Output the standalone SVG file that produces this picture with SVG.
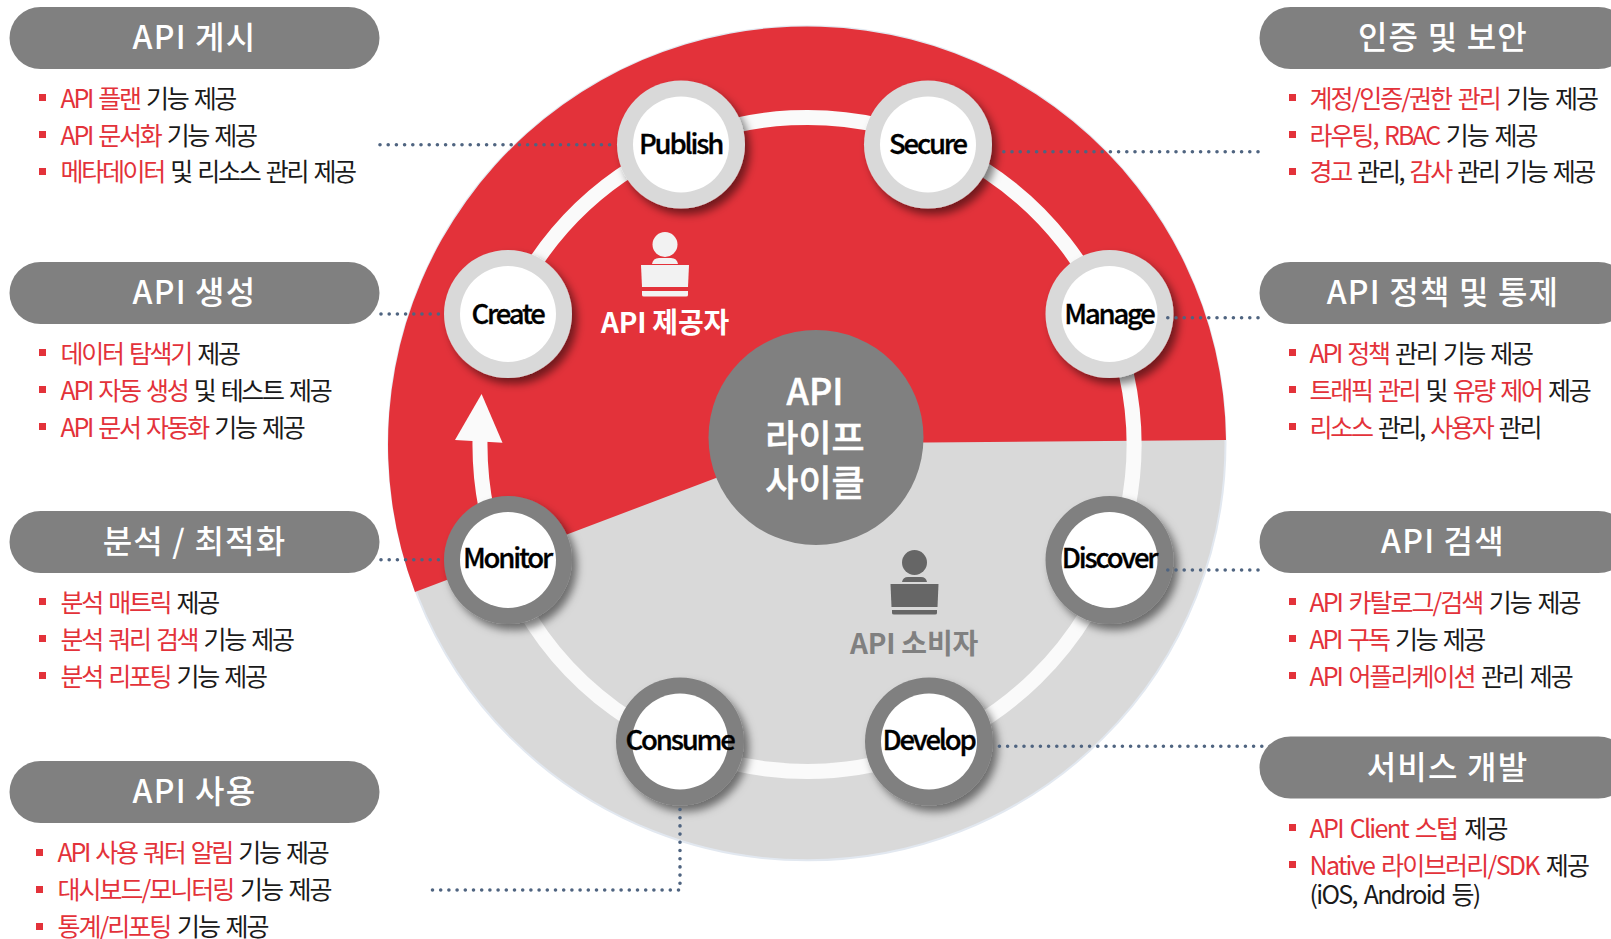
<svg xmlns="http://www.w3.org/2000/svg" width="1611" height="939" viewBox="0 0 1611 939">
<style>
text{font-family:"Noto Sans CJK KR","Noto Sans",sans-serif}
.pill{fill:#808080}
.pt{fill:#fff;font-size:32px;font-weight:500;text-anchor:middle;letter-spacing:1.2px}
.li{fill:#1a1a1a;font-size:25px;letter-spacing:-2.3px;word-spacing:3px}
.w1{letter-spacing:-2px}
.w2{letter-spacing:-1.7px}
.r{fill:#e3323a}
.bu{fill:#e3323a}
.nt{fill:#000;stroke:#000;stroke-width:.3px;font-size:27.5px;font-weight:500;text-anchor:middle;letter-spacing:-2.2px}
.ring{fill:#fff}
.dot{fill:none;stroke:#4f6480;stroke-width:3.6;stroke-linecap:round;stroke-dasharray:0 8.2}
</style>
<defs>
<filter id="sh" x="-30%" y="-30%" width="170%" height="170%"><feDropShadow dx="5" dy="6" stdDeviation="4.500" flood-color="#000" flood-opacity=".5"/></filter>
</defs>
<g id="disc">
<ellipse cx="807" cy="443.300" rx="418.500" ry="417" fill="#d9d9d9" stroke="#e2e8f0" stroke-width="2"/>
<path d="M1226 440A419 418 0 1 0 415 592L716 478L816 441L925 442.600Z" fill="#e3323a"/>
</g>
<g id="cycle">
<path d="M480 440A327 327 0 1 0 531 269" fill="none" stroke="#fafafa" stroke-width="15"/>
<path d="M481.600 394L455 440L481 441.500L502.500 442.700Z" fill="#fafafa"/>
</g>
<g id="hub"><circle cx="816" cy="437.500" r="107.500" fill="#808080"/>
<g fill="#fff" stroke="#fff" stroke-width=".5" font-size="36" font-weight="500" text-anchor="middle"><text x="815" y="405">API</text><text x="815" y="451">라이프</text><text x="815" y="496">사이클</text></g></g>
<g id="provider" fill="#f2f2f2">
<ellipse cx="665" cy="244.500" rx="12.500" ry="12.500"/>
<path d="M652 264Q653 258 659 258H671Q677 258 678 264Z"/>
<path d="M641 265H689L688 287H642Z"/>
<path d="M642 291H688V295Q688 296.500 686 296.500H644Q642 296.500 642 295Z"/>
<text x="665" y="332.500" font-size="28" font-weight="700" text-anchor="middle" letter-spacing="-.2" fill="#fff">API 제공자</text>
</g>
<g id="consumer" fill="#666">
<ellipse cx="914.500" cy="562.500" rx="12.500" ry="12.500"/>
<path d="M902 582Q903 577 908 577H921Q926 577 927 582Z"/>
<path d="M890.500 584H938.500L937.500 607H891.500Z"/>
<path d="M892 610H937V613Q937 614.500 935 614.500H894Q892 614.500 892 613Z"/>
<text x="914" y="654" font-size="28" font-weight="700" text-anchor="middle" letter-spacing="-.2" fill="#808080">API 소비자</text>
</g>
<g id="node-publish"><circle cx="681" cy="144.500" r="64" fill="#d9d9d9" filter="url(#sh)"/><circle class="ring" cx="681" cy="144.500" r="48"/><text class="nt" x="680.500" y="153.500">Publish</text></g>
<g id="node-secure"><circle cx="928" cy="144.500" r="64" fill="#d9d9d9" filter="url(#sh)"/><circle class="ring" cx="928" cy="144.500" r="48"/><text class="nt" x="927.500" y="153.500">Secure</text></g>
<g id="node-create"><circle cx="508" cy="314" r="64" fill="#d9d9d9" filter="url(#sh)"/><circle class="ring" cx="508" cy="314" r="48"/><text class="nt" x="507.500" y="323.500">Create</text></g>
<g id="node-manage"><circle cx="1109.500" cy="314" r="64" fill="#d9d9d9" filter="url(#sh)"/><circle class="ring" cx="1109.500" cy="314" r="48"/><text class="nt" x="1109" y="323.500">Manage</text></g>
<g id="node-monitor"><circle cx="508" cy="560" r="64" fill="#808080" filter="url(#sh)"/><circle class="ring" cx="508" cy="560" r="48"/><text class="nt" x="507" y="568">Monitor</text></g>
<g id="node-discover"><circle cx="1109.500" cy="560" r="64" fill="#808080" filter="url(#sh)"/><circle class="ring" cx="1109.500" cy="560" r="48"/><text class="nt" x="1109" y="568">Discover</text></g>
<g id="node-consume"><circle cx="680" cy="741.500" r="64" fill="#808080" filter="url(#sh)"/><circle class="ring" cx="680" cy="741.500" r="48"/><text class="nt" x="679.500" y="750">Consume</text></g>
<g id="node-develop"><circle cx="929" cy="741.500" r="64" fill="#808080" filter="url(#sh)"/><circle class="ring" cx="929" cy="741.500" r="48"/><text class="nt" x="928.500" y="750">Develop</text></g>
<g id="connectors">
<path class="dot" d="M380 144.700H615"/>
<path class="dot" d="M381 314H443"/>
<path class="dot" d="M381 559.700H443"/>
<path class="dot" d="M432.500 890H680V806"/>
<path class="dot" d="M1258 151.700H999"/>
<path class="dot" d="M1258 317.700H1166"/>
<path class="dot" d="M1258 570H1166"/>
<path class="dot" d="M1270 746.300H999"/>
</g>
<g id="panel-publish"><rect class="pill" x="9.500" y="7" width="370" height="62" rx="31"/><text class="pt" x="194.500" y="49">API 게시</text>
<rect class="bu" x="39" y="94" width="7" height="7"/><text class="li" x="60.500" y="107.500"><tspan class="r">API 플랜</tspan> 기능 제공</text>
<rect class="bu" x="39" y="131" width="7" height="7"/><text class="li" x="60.500" y="144.500"><tspan class="r">API 문서화</tspan> 기능 제공</text>
<rect class="bu" x="39" y="168" width="7" height="7"/><text class="li" x="60.500" y="181"><tspan class="r">메타데이터</tspan> 및 리소스 관리 제공</text></g>
<g id="panel-create"><rect class="pill" x="9.500" y="262" width="370" height="62" rx="31"/><text class="pt" x="194.500" y="304">API 생성</text>
<rect class="bu" x="39" y="349" width="7" height="7"/><text class="li" x="60.500" y="362.500"><tspan class="r">데이터 탐색기</tspan> 제공</text>
<rect class="bu" x="39" y="386" width="7" height="7"/><text class="li" x="60.500" y="399.500"><tspan class="r">API 자동 생성</tspan> 및 테스트 제공</text>
<rect class="bu" x="39" y="423" width="7" height="7"/><text class="li" x="60.500" y="436.500"><tspan class="r">API 문서 자동화</tspan> 기능 제공</text></g>
<g id="panel-monitor"><rect class="pill" x="9.500" y="511" width="370" height="62" rx="31"/><text class="pt" x="194.500" y="553">분석 / 최적화</text>
<rect class="bu" x="39" y="598" width="7" height="7"/><text class="li" x="60.500" y="612"><tspan class="r">분석 매트릭</tspan> 제공</text>
<rect class="bu" x="39" y="635" width="7" height="7"/><text class="li" x="60.500" y="649"><tspan class="r">분석 쿼리 검색</tspan> 기능 제공</text>
<rect class="bu" x="39" y="672" width="7" height="7"/><text class="li" x="60.500" y="686"><tspan class="r">분석 리포팅</tspan> 기능 제공</text></g>
<g id="panel-consume"><rect class="pill" x="9.500" y="761" width="370" height="62" rx="31"/><text class="pt" x="194.500" y="803">API 사용</text>
<rect class="bu" x="36" y="849" width="7" height="7"/><text class="li" x="57.500" y="862"><tspan class="r">API 사용 쿼터 알림</tspan> 기능 제공</text>
<rect class="bu" x="36" y="886" width="7" height="7"/><text class="li w1" x="57.500" y="899"><tspan class="r">대시보드/모니터링</tspan> 기능 제공</text>
<rect class="bu" x="36" y="923" width="7" height="7"/><text class="li w1" x="57.500" y="935.500"><tspan class="r">통계/리포팅</tspan> 기능 제공</text></g>
<g id="panel-secure"><rect class="pill" x="1259.500" y="7" width="370" height="62" rx="31"/><text class="pt" x="1443" y="49">인증 및 보안</text>
<rect class="bu" x="1289" y="94" width="7" height="7"/><text class="li w1" x="1309.500" y="107.500"><tspan class="r">계정/인증/권한 관리</tspan> 기능 제공</text>
<rect class="bu" x="1289" y="131" width="7" height="7"/><text class="li w1" x="1309.500" y="144.500"><tspan class="r">라우팅, RBAC</tspan> 기능 제공</text>
<rect class="bu" x="1289" y="168" width="7" height="7"/><text class="li" x="1309.500" y="181"><tspan class="r">경고</tspan> 관리, <tspan class="r">감사</tspan> 관리 기능 제공</text></g>
<g id="panel-manage"><rect class="pill" x="1259.500" y="262" width="370" height="62" rx="31"/><text class="pt" x="1443" y="304">API 정책 및 통제</text>
<rect class="bu" x="1289" y="349" width="7" height="7"/><text class="li" x="1309.500" y="362.500"><tspan class="r">API 정책</tspan> 관리 기능 제공</text>
<rect class="bu" x="1289" y="386" width="7" height="7"/><text class="li" x="1309.500" y="399.500"><tspan class="r">트래픽 관리</tspan> 및 <tspan class="r">유량 제어</tspan> 제공</text>
<rect class="bu" x="1289" y="423" width="7" height="7"/><text class="li" x="1309.500" y="436.500"><tspan class="r">리소스</tspan> 관리, <tspan class="r">사용자</tspan> 관리</text></g>
<g id="panel-discover"><rect class="pill" x="1259.500" y="511" width="370" height="62" rx="31"/><text class="pt" x="1443" y="553">API 검색</text>
<rect class="bu" x="1289" y="598" width="7" height="7"/><text class="li w1" x="1309.500" y="612"><tspan class="r">API 카탈로그/검색</tspan> 기능 제공</text>
<rect class="bu" x="1289" y="635" width="7" height="7"/><text class="li" x="1309.500" y="649"><tspan class="r">API 구독</tspan> 기능 제공</text>
<rect class="bu" x="1289" y="672" width="7" height="7"/><text class="li w1" x="1309.500" y="686"><tspan class="r">API 어플리케이션</tspan> 관리 제공</text></g>
<g id="panel-develop"><rect class="pill" x="1259.500" y="736.500" width="370" height="62" rx="31"/><text class="pt" x="1447.500" y="779">서비스 개발</text>
<rect class="bu" x="1289" y="824" width="7" height="7"/><text class="li w2" x="1309.500" y="838"><tspan class="r">API Client 스텁</tspan> 제공</text>
<rect class="bu" x="1289" y="861" width="7" height="7"/><text class="li w2" x="1309.500" y="875"><tspan class="r">Native 라이브러리/SDK</tspan> 제공</text>
<text class="li w2" x="1309.500" y="904">(iOS, Android 등)</text></g>
</svg>
